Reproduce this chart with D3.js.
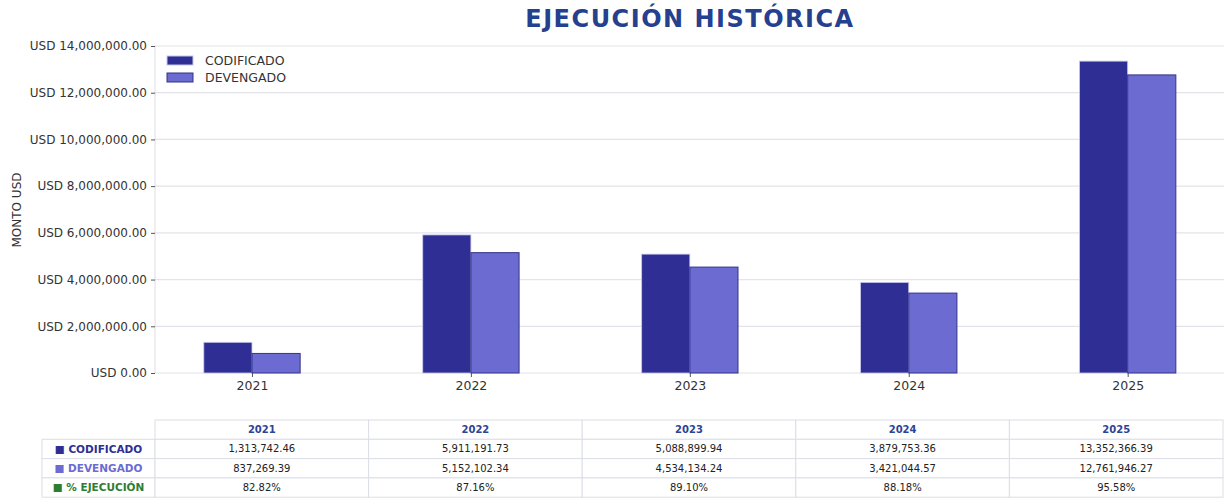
<!DOCTYPE html>
<html>
<head>
<meta charset="utf-8">
<script src="https://cdn.jsdelivr.net/npm/d3@7"></script>
<style>
  body { margin: 0; background: #fff; }
  svg text { font-family: "DejaVu Sans", sans-serif; }
</style>
</head>
<body>
<div id="chart"></div>
<script>
const years = ["2021", "2022", "2023", "2024", "2025"];
const codificado = [1313742.46, 5911191.73, 5088899.94, 3879753.36, 13352366.39];
const devengado = [837269.39, 5152102.34, 4534134.24, 3421044.57, 12761946.27];
const ejecucion = ["82.82%", "87.16%", "89.10%", "88.18%", "95.58%"];
const yTicks = [0, 2000000, 4000000, 6000000, 8000000, 10000000, 12000000, 14000000];

const W = 1224, H = 500;
const plot = { left: 155, right: 1224, top: 46, bottom: 373 };

const colCod = "#2e2e94", colDev = "#6b6bd1", colEje = "#2e7d32";

const svg = d3.select("#chart").append("svg")
  .attr("width", W).attr("height", H);

// Title
svg.append("text")
  .attr("x", 690).attr("y", 27)
  .attr("text-anchor", "middle")
  .attr("font-size", 24).attr("font-weight", "bold")
  .attr("letter-spacing", 1.5)
  .attr("fill", "#24408e")
  .text("EJECUCIÓN HISTÓRICA");

const x = d3.scaleLinear().domain([-0.443, 4.44]).range([plot.left, plot.right]);
const y = d3.scaleLinear().domain([0, 14000000]).range([plot.bottom, plot.top]);
const barW = x(0.22) - x(0);

// gridlines
svg.append("g").selectAll("line")
  .data(yTicks)
  .join("line")
  .attr("x1", plot.left).attr("x2", plot.right)
  .attr("y1", d => y(d)).attr("y2", d => y(d))
  .attr("stroke", "#e3e3ea").attr("stroke-width", 1.2);

// left spine
svg.append("line")
  .attr("x1", plot.left).attr("x2", plot.left)
  .attr("y1", plot.top).attr("y2", plot.bottom)
  .attr("stroke", "#dcdce6");

// y axis
const yAxis = svg.append("g")
  .attr("transform", `translate(${plot.left},0)`)
  .call(d3.axisLeft(y).tickValues(yTicks).tickSize(4).tickPadding(4)
    .tickFormat(d => "USD " + d3.format(",.2f")(d)));
yAxis.select(".domain").remove();
yAxis.selectAll("line").attr("stroke", "#555");
yAxis.selectAll("text").attr("font-size", 12).attr("fill", "#333")
  .attr("font-family", "DejaVu Sans, sans-serif");

// x axis
const xAxis = svg.append("g")
  .attr("transform", `translate(0,${plot.bottom})`)
  .call(d3.axisBottom(x).tickValues(d3.range(years.length)).tickSize(4).tickPadding(4)
    .tickFormat(i => years[i]));
xAxis.select(".domain").remove();
xAxis.selectAll("line").attr("stroke", "#555");
xAxis.selectAll("text").attr("font-size", 12.5).attr("fill", "#333")
  .attr("font-family", "DejaVu Sans, sans-serif");

// y label
svg.append("text")
  .attr("transform", "translate(21,210) rotate(-90)")
  .attr("text-anchor", "middle")
  .attr("font-size", 12).attr("fill", "#333")
  .text("MONTO USD");

// bars
svg.append("g").selectAll("rect")
  .data(codificado)
  .join("rect")
  .attr("x", (d, i) => x(i) - barW)
  .attr("y", d => y(d))
  .attr("width", barW)
  .attr("height", d => plot.bottom - y(d))
  .attr("fill", colCod)
  .attr("stroke", "#c8c8ec").attr("stroke-width", 0.8);

svg.append("g").selectAll("rect")
  .data(devengado)
  .join("rect")
  .attr("x", (d, i) => x(i))
  .attr("y", d => y(d))
  .attr("width", barW)
  .attr("height", d => plot.bottom - y(d))
  .attr("fill", colDev)
  .attr("stroke", "#33338a").attr("stroke-width", 1);

// legend
const legendItems = [
  { name: "CODIFICADO", color: colCod, stroke: "#c8c8ec" },
  { name: "DEVENGADO", color: colDev, stroke: "#33338a" }
];
const legend = svg.append("g").selectAll("g")
  .data(legendItems)
  .join("g")
  .attr("transform", (d, i) => `translate(167,${56 + i * 17})`);
legend.append("rect")
  .attr("width", 26).attr("height", 9)
  .attr("fill", d => d.color).attr("stroke", d => d.stroke);
legend.append("text")
  .attr("x", 38).attr("y", 5).attr("dy", "0.35em")
  .attr("font-size", 12.5).attr("fill", "#333")
  .text(d => d.name);

// table
const tbl = { left: 42, labelRight: 155, right: 1223, top: 420, rowH: 19.3 };
const colW = (tbl.right - tbl.labelRight) / years.length;
const borderC = "#dcdee6";
const t = svg.append("g");

// header cells
t.selectAll(".hcell")
  .data(years)
  .join("rect")
  .attr("x", (d, i) => tbl.labelRight + i * colW)
  .attr("y", tbl.top)
  .attr("width", colW).attr("height", tbl.rowH)
  .attr("fill", "#fff").attr("stroke", borderC);
t.selectAll(".htext")
  .data(years)
  .join("text")
  .attr("x", (d, i) => tbl.labelRight + (i + 0.5) * colW)
  .attr("y", tbl.top + tbl.rowH / 2).attr("dy", "0.35em")
  .attr("text-anchor", "middle")
  .attr("font-size", 10).attr("font-weight", "bold").attr("fill", "#2d4495")
  .text(d => d);

const fmt = d3.format(",.2f");
const rows = [
  { label: "CODIFICADO", color: colCod, values: codificado.map(fmt) },
  { label: "DEVENGADO", color: colDev, values: devengado.map(fmt) },
  { label: "% EJECUCIÓN", color: colEje, values: ejecucion }
];

rows.forEach((r, ri) => {
  const yy = tbl.top + (ri + 1) * tbl.rowH;
  t.append("rect")
    .attr("x", tbl.left).attr("y", yy)
    .attr("width", tbl.labelRight - tbl.left).attr("height", tbl.rowH)
    .attr("fill", "#fff").attr("stroke", borderC);
  const lab = t.append("text")
    .attr("x", (tbl.left + tbl.labelRight) / 2).attr("y", yy + tbl.rowH / 2)
    .attr("dy", "0.35em").attr("text-anchor", "middle")
    .attr("font-size", 10.5).attr("font-weight", "bold").attr("fill", r.color);
  lab.append("tspan").text("■ ");
  lab.append("tspan").text(r.label);
  r.values.forEach((v, ci) => {
    t.append("rect")
      .attr("x", tbl.labelRight + ci * colW).attr("y", yy)
      .attr("width", colW).attr("height", tbl.rowH)
      .attr("fill", "#fff").attr("stroke", borderC);
    t.append("text")
      .attr("x", tbl.labelRight + (ci + 0.5) * colW).attr("y", yy + tbl.rowH / 2)
      .attr("dy", "0.35em").attr("text-anchor", "middle")
      .attr("font-size", 10).attr("fill", "#222")
      .text(v);
  });
});
</script>
</body>
</html>
